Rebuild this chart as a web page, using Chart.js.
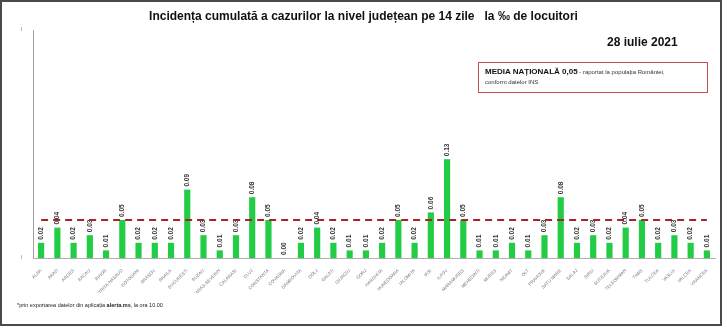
<!DOCTYPE html>
<html>
<head>
<meta charset="utf-8">
<script src="https://cdn.jsdelivr.net/npm/chart.js@4/dist/chart.umd.min.js"></script>
<style>
  html, body { margin: 0; padding: 0; background: #fff; }
  #wrap { position: relative; width: 727px; height: 329px; overflow: hidden; font-family: "Liberation Sans Narrow", "Liberation Sans", Arial, sans-serif; }
  #chart { position: absolute; left: 0; top: 0; }
  #frame { position: absolute; left: 0; top: 0; width: 722px; height: 326px; box-sizing: border-box; border: 2px solid #4a4a4a; pointer-events: none; }
  #title { position: absolute; top: 9px; left: 0; width: 727px; text-align: center; font-weight: bold; font-size: 12px; color: #111; }
  #date { position: absolute; top: 35px; left: 607px; font-weight: bold; font-size: 12px; color: #111; }
  #media { position: absolute; left: 478px; top: 62px; width: 230px; height: 31px; box-sizing: border-box; border: 1.5px solid #c0504d; padding: 4px 0 0 6px; font-family: "Liberation Sans", Arial, sans-serif; font-size: 6px; color: #333; line-height: 10px; }
  #media b { font-size: 8px; color: #111; }
  #note { position: absolute; left: 17px; top: 302px; font-family: "Liberation Sans", Arial, sans-serif; font-size: 5.5px; color: #222; }
</style>
</head>
<body>
<div id="wrap">
  <canvas id="chart" width="727" height="329"></canvas>
  <div id="title">Incidența cumulată a cazurilor la nivel județean pe 14 zile &nbsp; la ‰ de locuitori</div>
  <div id="date">28 iulie 2021</div>
  <div id="media"><b>MEDIA NAȚIONALĂ 0,05</b> - raportat la populația României,<br>conform datelor INS</div>
  <div id="note">*prin exportarea datelor din aplicația <b>alerta.ms</b>, la ora 10.00</div>
  <div id="frame"></div>
</div>
<script>
// Counties in the order shown on the chart
const counties = ['ALBA', 'ARAD', 'ARGES', 'BACAU', 'BIHOR', 'BISTRITA-NASAUD', 'BOTOSANI', 'BRASOV', 'BRAILA',
  'BUCURESTI', 'BUZAU', 'CARAS-SEVERIN', 'CALARASI', 'CLUJ', 'CONSTANTA', 'COVASNA', 'DAMBOVITA', 'DOLJ', 'GALATI',
  'GIURGIU', 'GORJ', 'HARGHITA', 'HUNEDOARA', 'IALOMITA', 'IASI', 'ILFOV', 'MARAMURES', 'MEHEDINTI', 'MURES',
  'NEAMT', 'OLT', 'PRAHOVA', 'SATU MARE', 'SALAJ', 'SIBIU', 'SUCEAVA', 'TELEORMAN', 'TIMIS', 'TULCEA', 'VASLUI',
  'VALCEA', 'VRANCEA'];
const incidence = [0.02, 0.04, 0.02, 0.03, 0.01, 0.05, 0.02, 0.02, 0.02,
  0.09, 0.03, 0.01, 0.03, 0.08, 0.05, 0.00, 0.02, 0.04, 0.02,
  0.01, 0.01, 0.02, 0.05, 0.02, 0.06, 0.13, 0.05, 0.01, 0.01,
  0.02, 0.01, 0.03, 0.08, 0.02, 0.03, 0.02, 0.04, 0.05, 0.02, 0.03,
  0.02, 0.01];
const nationalAverage = 0.05;
const yTicks = [0, 0.3];

// value labels, rotated, drawn before datasets so the dashed line sits over them
const valueLabels = {
  id: 'valueLabels',
  beforeDatasetsDraw(chart) {
    const ctx = chart.ctx;
    const meta = chart.getDatasetMeta(1);
    ctx.save();
    ctx.font = 'bold 6.5px "Liberation Sans", Arial, sans-serif';
    ctx.fillStyle = '#333';
    ctx.textAlign = 'left';
    ctx.textBaseline = 'middle';
    meta.data.forEach((bar, i) => {
      ctx.save();
      ctx.translate(bar.x, bar.y - 3);
      ctx.rotate(-Math.PI / 2);
      ctx.fillText(incidence[i].toFixed(2), 0, 0);
      ctx.restore();
    });
    ctx.restore();
  }
};

new Chart(document.getElementById('chart'), {
  type: 'bar',
  data: {
    labels: counties,
    datasets: [{
      type: 'line',
      data: counties.map(() => nationalAverage),
      borderColor: '#a8232b',
      borderWidth: 2,
      borderDash: [7, 5],
      pointRadius: 0,
      fill: false,
      order: 0
    }, {
      data: incidence,
      backgroundColor: '#22cc44',
      barPercentage: 0.38,
      categoryPercentage: 1,
      order: 1
    }]
  },
  options: {
    responsive: false,
    devicePixelRatio: 1,
    animation: false,
    layout: { padding: { left: 21, right: 12, top: 30, bottom: 36 } },
    plugins: { legend: { display: false }, tooltip: { enabled: false } },
    scales: {
      x: {
        grid: { display: false },
        border: { color: '#b0b0b0' },
        ticks: { autoSkip: false, minRotation: 45, maxRotation: 45, padding: 2, font: { size: 4.5 }, color: '#777' },
        afterFit(scale) { scale.height = 35; }
      },
      y: {
        min: 0,
        max: 0.3,
        grid: { display: false },
        border: { color: '#a0a0a0' },
        afterBuildTicks(scale) { scale.ticks = yTicks.map(v => ({ value: v })); },
        ticks: { font: { size: 5 }, color: '#666', padding: 3, callback: v => String(v) },
        afterFit(scale) { scale.width = 12; }
      }
    }
  },
  plugins: [valueLabels]
});
</script>
</body>
</html>
